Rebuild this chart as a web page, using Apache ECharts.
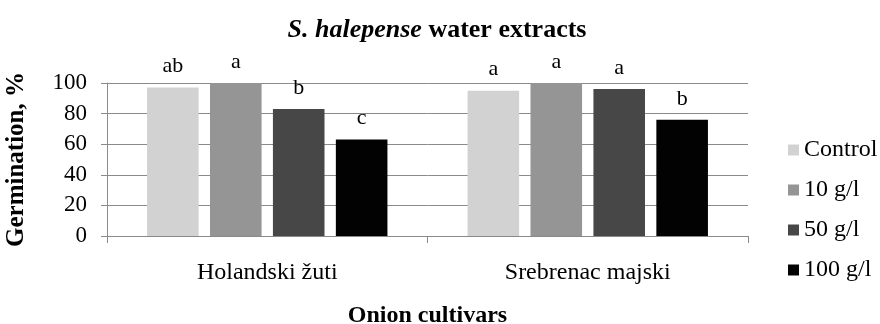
<!DOCTYPE html>
<html>
<head>
<meta charset="utf-8">
<script src="https://cdn.jsdelivr.net/npm/echarts@6/dist/echarts.min.js"></script>
<style>
  html, body { margin: 0; padding: 0; background: #fff; }
  #chart { width: 880px; height: 324px; }
</style>
</head>
<body>
<div id="chart"></div>
<script>
// Germination of onion cultivars under S. halepense water extracts
const cultivars = ['Holandski žuti', 'Srebrenac majski'];
const treatments = ['Control', '10 g/l', '50 g/l', '100 g/l'];
const colors = ['#d2d2d2', '#959595', '#474747', '#020202'];

const controlVals = [97, 95];
const g10Vals = [100, 100];
const g50Vals = [83, 96];
const g100Vals = [63, 76];

// significance letters shown above each bar
const controlLetters = ['ab', 'a'];
const g10Letters = ['a', 'a'];
const g50Letters = ['b', 'a'];
const g100Letters = ['c', 'b'];

const yTicks = [0, 20, 40, 60, 80, 100];

const seriesValues = [controlVals, g10Vals, g50Vals, g100Vals];
const seriesLetters = [controlLetters, g10Letters, g50Letters, g100Letters];

const serif = 'Liberation Serif';

const chart = echarts.init(document.getElementById('chart'));
chart.setOption({
  animation: false,
  backgroundColor: '#ffffff',
  textStyle: { fontFamily: serif },
  title: {
    text: '{i|S. halepense} water extracts',
    left: 432,
    top: 12,
    textAlign: 'center',
    textStyle: {
      fontFamily: serif,
      fontSize: 26,
      fontWeight: 'bold',
      color: '#000',
      rich: {
        i: { fontFamily: serif, fontSize: 26, fontWeight: 'bold', fontStyle: 'italic', color: '#000' }
      }
    }
  },
  legend: {
    orient: 'vertical',
    left: 783,
    top: 133,
    itemWidth: 11,
    itemHeight: 11,
    itemGap: 16,
    icon: 'rect',
    textStyle: { fontFamily: serif, fontSize: 24, color: '#000' },
    data: treatments
  },
  // fixed plot rectangle; the axis name may run to the bottom edge
  grid: { left: 107, right: 132, top: 83, bottom: 88, outerBoundsMode: 'none', containLabel: false },
  xAxis: {
    type: 'category',
    data: cultivars,
    name: 'Onion cultivars',
    nameLocation: 'middle',
    nameGap: 68,
    nameTextStyle: { fontFamily: serif, fontSize: 24, fontWeight: 'bold', color: '#000' },
    axisLine: { lineStyle: { color: '#8a8a8a', width: 1 } },
    axisTick: { show: true, length: 7, lineStyle: { color: '#8a8a8a' } },
    axisLabel: { fontFamily: serif, fontSize: 24, color: '#000', margin: 25 }
  },
  yAxis: {
    type: 'value',
    min: 0,
    max: 100,
    interval: 20,
    name: 'Germination, %',
    nameLocation: 'middle',
    nameGap: 78,
    nameRotate: 90,
    nameTextStyle: { fontFamily: serif, fontSize: 25, fontWeight: 'bold', color: '#000' },
    axisLine: { show: true, lineStyle: { color: '#8a8a8a', width: 1 } },
    axisTick: { show: true, length: 6, lineStyle: { color: '#8a8a8a' } },
    splitLine: { show: true, lineStyle: { color: '#8a8a8a', width: 1 } },
    axisLabel: {
      fontFamily: serif, fontSize: 23, color: '#000', margin: 20,
      formatter: v => (yTicks.includes(v) ? String(v) : '')
    }
  },
  series: treatments.map((name, i) => ({
    name: name,
    type: 'bar',
    data: seriesValues[i],
    barGap: '22%',
    barCategoryGap: '25%',
    itemStyle: { color: colors[i] },
    label: {
      show: true,
      position: 'top',
      distance: 10,
      fontFamily: serif,
      fontSize: 22,
      color: '#000',
      formatter: p => seriesLetters[i][p.dataIndex]
    }
  }))
});
</script>
</body>
</html>
